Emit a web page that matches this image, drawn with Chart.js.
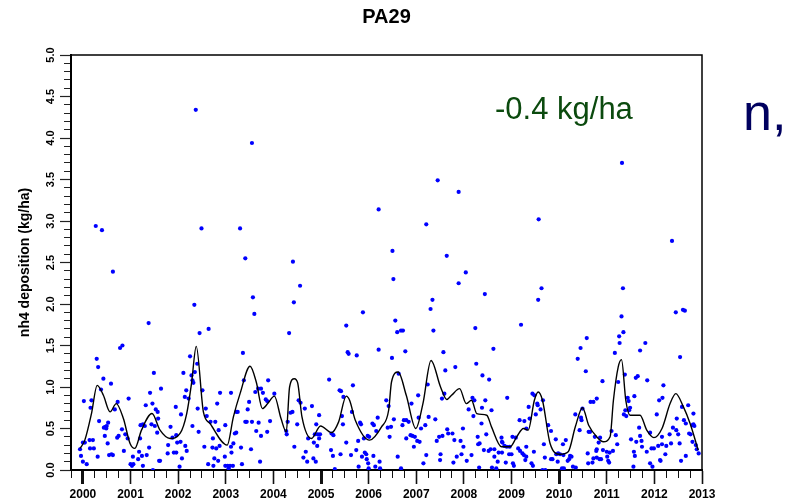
<!DOCTYPE html>
<html>
<head>
<meta charset="utf-8">
<script src="https://cdn.jsdelivr.net/npm/chart.js@4.4.1/dist/chart.umd.min.js"></script>
<style>
body{margin:0;background:#fff;}
canvas{display:block;}
</style>
</head>
<body>
<canvas id="c" width="788" height="504"></canvas>
<script>
// weekly samples [decimal year, kg/ha]
var obs2000 = [[1999.94,0.25],[1999.96,0.17],[2000.00,0.33],[2000.00,0.10],[2000.02,0.83],[2000.04,0.33],[2000.08,0.07],[2000.14,0.36],[2000.21,0.36],[2000.15,0.26],[2000.23,0.26],[2000.16,0.75],[2000.18,0.84],[2000.27,2.94],[2000.29,1.34],[2000.32,1.24],[2000.31,0.16],[2000.34,0.59],[2000.38,0.97],[2000.40,2.89],[2000.43,1.10],[2000.44,0.51],[2000.46,0.41],[2000.47,0.52],[2000.49,0.50],[2000.50,0.53],[2000.52,0.32],[2000.53,0.57],[2000.55,0.18],[2000.59,1.04],[2000.60,0.19],[2000.63,0.18],[2000.63,2.39],[2000.67,0.73],[2000.73,0.82],[2000.72,0.39],[2000.75,0.41],[2000.78,1.47],[2000.83,1.50],[2000.82,0.49],[2000.86,0.23],[2000.89,0.43],[2000.94,0.38],[2000.96,0.86],[2001.00,0.07],[2001.03,0.05],[2001.06,0.07],[2001.05,0.16],[2001.16,0.13],[2001.18,0.22],[2001.20,0.38],[2001.21,0.54],[2001.24,0.17],[2001.26,0.05],[2001.26,0.55],[2001.30,0.53],[2001.32,0.78],[2001.34,0.18],[2001.38,1.77],[2001.39,0.27],[2001.41,0.93],[2001.44,0.55],[2001.46,0.80],[2001.47,0.00],[2001.49,1.17],[2001.51,0.53],[2001.53,0.73],[2001.56,0.45],[2001.57,0.70],[2001.58,0.62],[2001.60,0.11],[2001.62,0.11],[2001.64,0.98],[2001.78,0.20],[2001.79,0.30],[2001.84,0.52],[2001.88,0.39],[2001.91,0.21],[2001.96,0.42]];
var obs2002 = [[2002.37,4.34],[2002.49,2.91],[2003.30,2.91],[2003.41,2.55],[2003.55,3.94],[2003.57,2.08],[2002.34,1.99],[2003.60,1.88],[2002.45,1.65],[2002.64,1.70],[2003.36,1.41],[2002.25,1.37],[2002.11,1.17],[2002.35,1.18],[2002.40,1.28],[2002.28,1.14],[2002.32,1.05],[2002.30,1.08],[2002.17,0.96],[2002.14,0.88],[2002.22,0.86],[2002.51,0.96],[2002.88,0.93],[2003.11,0.93],[2002.82,0.80],[2003.38,1.08],[2003.62,0.94],[2003.68,0.98],[2003.74,0.98],[2003.78,0.93],[2003.89,1.08],[2004.02,0.92],[2003.84,0.85],[2003.87,0.83],[2003.49,0.82],[2003.46,0.73],[2003.22,0.70],[2003.25,0.70],[2002.41,0.74],[2002.58,0.74],[2002.06,0.67],[2001.95,0.76],[2002.60,0.65],[2002.78,0.58],[2002.68,0.58],[2002.30,0.53],[2002.43,0.46],[2002.85,0.48],[2002.99,0.54],[2003.41,0.58],[2003.44,0.58],[2003.55,0.58],[2003.69,0.57],[2003.93,0.59],[2003.64,0.47],[2003.74,0.41],[2003.87,0.46],[2003.19,0.44],[2003.22,0.45],[2002.73,0.38],[2002.72,0.27],[2002.80,0.26],[2002.55,0.28],[2002.87,0.29],[2003.11,0.28],[2003.16,0.32],[2003.32,0.27],[2003.53,0.25],[2001.98,0.33],[2002.05,0.34],[2002.15,0.29],[2002.18,0.23],[2001.96,0.21],[2002.08,0.14],[2002.03,0.04],[2002.76,0.14],[2002.84,0.11],[2002.63,0.07],[2002.74,0.05],[2002.98,0.16],[2003.12,0.21],[2002.99,0.05],[2003.04,0.05],[2003.09,0.05],[2003.15,0.05],[2003.06,0.02],[2003.34,0.07],[2003.72,0.10]];
var obs2004 = [[2004.41,2.51],[2004.56,2.22],[2006.21,3.14],[2004.43,2.02],[2005.88,1.90],[2004.33,1.65],[2005.53,1.74],[2005.56,1.42],[2005.58,1.40],[2005.75,1.38],[2006.21,1.45],[2005.17,1.09],[2005.39,0.96],[2005.42,0.95],[2005.67,1.02],[2005.47,0.88],[2004.53,0.84],[2004.57,0.81],[2004.36,0.69],[2004.40,0.70],[2004.66,0.74],[2004.81,0.77],[2004.96,0.66],[2005.44,0.65],[2005.65,0.70],[2006.19,0.63],[2004.30,0.58],[2004.50,0.55],[2004.90,0.55],[2005.46,0.55],[2005.82,0.57],[2005.84,0.55],[2006.08,0.56],[2006.11,0.54],[2004.27,0.47],[2004.28,0.43],[2004.87,0.43],[2004.93,0.43],[2004.98,0.43],[2004.96,0.38],[2005.22,0.44],[2005.26,0.42],[2004.73,0.38],[2004.85,0.33],[2004.92,0.29],[2005.98,0.41],[2006.01,0.40],[2005.90,0.38],[2005.78,0.35],[2005.53,0.33],[2006.16,0.47],[2004.44,0.28],[2005.21,0.24],[2005.74,0.24],[2004.68,0.22],[2004.63,0.15],[2005.25,0.17],[2005.41,0.19],[2005.63,0.18],[2005.86,0.16],[2005.92,0.21],[2005.95,0.19],[2005.96,0.13],[2006.10,0.17],[2004.84,0.14],[2004.71,0.10],[2004.89,0.10],[2005.99,0.08],[2006.23,0.10],[2005.79,0.04],[2006.00,0.02],[2006.14,0.04],[2006.24,0.02],[2005.29,0.01]];
var obs2006 = [[2006.50,2.64],[2006.52,2.30],[2007.21,2.96],[2007.45,3.49],[2007.64,2.58],[2007.89,3.35],[2008.04,2.38],[2007.89,2.25],[2008.44,2.12],[2007.34,2.05],[2007.30,1.94],[2006.56,1.80],[2006.60,1.66],[2006.68,1.68],[2006.72,1.68],[2007.36,1.68],[2008.24,1.71],[2007.57,1.42],[2006.77,1.43],[2006.49,1.35],[2008.26,1.28],[2007.82,1.24],[2007.61,1.20],[2006.63,1.16],[2008.39,1.14],[2008.53,1.09],[2007.24,1.03],[2007.59,0.92],[2007.54,0.86],[2007.04,0.90],[2008.18,0.87],[2008.22,0.84],[2008.45,0.84],[2006.37,0.84],[2006.42,0.77],[2006.90,0.80],[2008.10,0.73],[2008.38,0.75],[2008.58,0.72],[2008.20,0.65],[2007.26,0.64],[2007.40,0.61],[2007.05,0.63],[2006.74,0.60],[2006.79,0.60],[2006.84,0.58],[2006.53,0.61],[2006.40,0.51],[2006.47,0.52],[2006.71,0.54],[2007.10,0.50],[2007.19,0.54],[2008.37,0.56],[2007.65,0.49],[2007.98,0.50],[2007.67,0.44],[2007.76,0.44],[2008.47,0.43],[2006.44,0.40],[2006.79,0.38],[2006.88,0.42],[2006.92,0.41],[2006.97,0.40],[2007.02,0.35],[2007.07,0.34],[2006.95,0.28],[2007.43,0.35],[2007.48,0.40],[2007.55,0.41],[2007.80,0.36],[2007.93,0.35],[2007.99,0.28],[2008.29,0.40],[2008.30,0.31],[2008.33,0.32],[2008.42,0.24],[2008.52,0.23],[2008.56,0.25],[2008.64,0.25],[2006.61,0.16],[2007.21,0.18],[2007.51,0.19],[2007.50,0.12],[2007.85,0.16],[2007.95,0.19],[2008.06,0.11],[2008.16,0.18],[2007.15,0.08],[2007.78,0.09],[2008.32,0.03],[2008.59,0.03],[2006.68,0.02]];
var obs2008 = [[2009.57,3.02],[2009.63,2.19],[2009.56,2.05],[2009.20,1.75],[2008.62,1.46],[2010.58,1.59],[2010.45,1.47],[2010.39,1.34],[2010.56,1.19],[2009.44,0.92],[2009.48,0.90],[2008.91,0.87],[2009.66,0.84],[2009.54,0.80],[2009.55,0.78],[2009.36,0.76],[2009.61,0.73],[2010.66,0.82],[2010.72,0.82],[2010.49,0.74],[2010.34,0.67],[2009.51,0.67],[2009.38,0.62],[2010.46,0.63],[2010.47,0.60],[2009.17,0.60],[2009.27,0.59],[2009.31,0.50],[2009.77,0.54],[2009.83,0.47],[2010.43,0.48],[2010.62,0.46],[2010.65,0.46],[2009.02,0.40],[2009.09,0.39],[2008.79,0.39],[2008.80,0.34],[2008.81,0.33],[2009.93,0.37],[2010.14,0.36],[2010.75,0.40],[2008.85,0.29],[2008.90,0.28],[2008.96,0.28],[2009.14,0.26],[2009.18,0.23],[2009.68,0.31],[2009.31,0.28],[2009.47,0.22],[2010.08,0.31],[2008.73,0.21],[2008.80,0.21],[2008.95,0.19],[2009.00,0.19],[2009.23,0.20],[2009.26,0.18],[2009.31,0.16],[2009.70,0.15],[2009.83,0.13],[2009.86,0.13],[2009.94,0.19],[2009.98,0.20],[2010.02,0.19],[2010.09,0.18],[2010.23,0.17],[2010.26,0.16],[2010.21,0.13],[2010.18,0.11],[2010.60,0.20],[2010.78,0.23],[2010.72,0.14],[2008.64,0.16],[2008.71,0.10],[2008.68,0.02],[2008.88,0.09],[2009.03,0.08],[2009.05,0.05],[2009.29,0.12],[2009.42,0.08],[2009.45,0.05],[2009.65,0.00],[2009.71,0.00],[2009.97,0.10],[2010.06,0.02],[2010.10,0.02],[2010.29,0.04],[2010.35,0.03],[2010.61,0.08],[2010.70,0.09]];
var obs2010 = [[2011.32,3.70],[2011.34,2.19],[2012.37,2.76],[2012.45,1.90],[2012.60,1.93],[2012.64,1.92],[2011.31,1.85],[2011.26,1.61],[2011.35,1.66],[2011.27,1.53],[2011.81,1.53],[2011.70,1.44],[2011.17,1.41],[2012.54,1.36],[2010.91,1.07],[2011.24,1.06],[2011.61,1.11],[2011.65,1.13],[2011.85,1.08],[2011.38,1.15],[2012.19,1.02],[2010.79,0.86],[2011.44,0.87],[2011.46,0.83],[2011.58,0.89],[2012.10,0.84],[2012.17,0.87],[2011.39,0.72],[2011.41,0.65],[2011.47,0.72],[2011.49,0.75],[2011.36,0.67],[2012.05,0.67],[2012.58,0.76],[2012.71,0.78],[2012.47,0.62],[2012.62,0.60],[2012.66,0.56],[2012.82,0.68],[2012.80,0.54],[2012.82,0.55],[2012.84,0.53],[2012.73,0.44],[2012.76,0.43],[2011.10,0.47],[2011.19,0.42],[2011.68,0.51],[2011.70,0.41],[2011.91,0.45],[2012.39,0.51],[2012.46,0.48],[2012.50,0.43],[2012.32,0.43],[2012.16,0.40],[2011.51,0.37],[2011.62,0.34],[2011.73,0.35],[2010.83,0.33],[2010.86,0.39],[2011.22,0.31],[2011.00,0.22],[2011.06,0.21],[2011.13,0.23],[2010.92,0.24],[2010.79,0.25],[2011.74,0.28],[2011.84,0.22],[2011.94,0.26],[2011.99,0.26],[2012.08,0.29],[2012.16,0.31],[2012.25,0.29],[2012.35,0.32],[2012.53,0.32],[2012.80,0.34],[2012.87,0.30],[2012.89,0.25],[2012.93,0.20],[2010.79,0.15],[2010.85,0.13],[2010.88,0.13],[2011.01,0.16],[2011.05,0.09],[2011.03,0.11],[2011.57,0.22],[2011.59,0.17],[2012.23,0.19],[2012.12,0.12],[2012.13,0.11],[2011.91,0.08],[2011.96,0.04],[2011.56,0.04],[2012.56,0.11],[2012.66,0.17]];

// smoothed curve
var trendYear = [1999.94,2000.04,2000.18,2000.30,2000.43,2000.57,2000.70,2000.85,2000.99,2001.09,2001.23,2001.45,2001.62,2001.83,2002.04,2002.18,2002.28,2002.38,2002.53,2002.67,2003.03,2003.16,2003.30,2003.51,2003.64,2003.77,2003.88,2004.02,2004.16,2004.27,2004.34,2004.44,2004.51,2004.60,2004.80,2004.99,2005.22,2005.37,2005.53,2005.60,2005.72,2006.02,2006.27,2006.42,2006.48,2006.62,2006.79,2006.99,2007.14,2007.31,2007.51,2007.64,2007.74,2007.91,2008.05,2008.16,2008.27,2008.48,2008.58,2008.79,2008.97,2009.11,2009.25,2009.35,2009.48,2009.56,2009.65,2009.81,2010.02,2010.19,2010.34,2010.49,2010.62,2010.79,2010.93,2011.07,2011.14,2011.24,2011.31,2011.40,2011.49,2011.70,2011.84,2011.99,2012.16,2012.33,2012.45,2012.61,2012.75,2012.92];
var trendNh4 = [0.26,0.36,0.68,1.02,0.90,0.70,0.80,0.62,0.32,0.26,0.48,0.68,0.48,0.38,0.44,0.68,1.04,1.49,0.70,0.56,0.30,0.64,0.92,1.25,1.06,0.74,0.80,0.89,0.62,0.46,1.00,1.10,1.05,0.64,0.38,0.53,0.45,0.58,0.89,0.84,0.60,0.36,0.52,0.72,1.06,1.18,0.90,0.50,0.80,1.32,1.00,0.85,0.90,0.98,0.80,0.84,0.68,0.66,0.52,0.28,0.28,0.40,0.50,0.48,0.84,0.94,0.84,0.32,0.19,0.22,0.52,0.75,0.54,0.40,0.34,0.40,0.84,1.24,1.33,0.84,0.66,0.66,0.48,0.39,0.50,0.80,0.92,0.76,0.56,0.24];

var siteName = "PA29";
var yTitle = "nh4 deposition (kg/ha)";
var trendLabel = "-0.4 kg/ha";
var sideLabel = "n,";

var FONT = '"Liberation Sans", Arial, sans-serif';
Chart.defaults.font.family = FONT;
Chart.defaults.color = "#000";

var points = [].concat(obs2000, obs2002, obs2004, obs2006, obs2008, obs2010).map(d => ({x: d[0], y: d[1]}));
var curve = trendYear.map((t, i) => ({x: t, y: trendNh4[i]}));

function isWhole(v, step) {
	return Math.abs(v / step - Math.round(v / step)) < 1e-6;
}

// frame on top/right and the loose labels
var extras = {
	id: "extras",
	afterDraw: function(chart) {
		var c = chart.ctx, a = chart.chartArea;
		c.save();
		c.strokeStyle = "#000";
		c.lineWidth = 1.5;
		c.beginPath();
		c.moveTo(a.left, a.top);
		c.lineTo(a.right, a.top);
		c.lineTo(a.right, a.bottom);
		c.stroke();
		c.textBaseline = "alphabetic";
		c.textAlign = "left";
		c.font = "31px " + FONT;
		c.fillStyle = "#0b4a0e";
		c.fillText(trendLabel, 495, 119);
		c.font = "52px " + FONT;
		c.fillStyle = "#00005f";
		c.fillText(sideLabel, 743, 130);
		c.restore();
	}
};

new Chart(document.getElementById("c"), {
	type: "scatter",
	data: {
		datasets: [
			{
				data: curve,
				showLine: true,
				borderColor: "#000",
				borderWidth: 1.4,
				pointRadius: 0,
				cubicInterpolationMode: "monotone",
				order: 0
			},
			{
				data: points,
				pointRadius: 2.1,
				pointBackgroundColor: "#0000ff",
				pointBorderWidth: 0,
				order: 1
			}
		]
	},
	options: {
		responsive: false,
		animation: false,
		devicePixelRatio: 1,
		layout: {padding: {left: 0, top: 0, right: 86, bottom: 0}},
		plugins: {
			legend: {display: false},
			tooltip: {enabled: false},
			title: {
				display: true,
				text: siteName,
				fullSize: false,
				color: "#000",
				font: {size: 20, weight: "bold"},
				padding: {top: 5, bottom: 26}
			}
		},
		scales: {
			x: {
				type: "linear",
				min: 1999.75,
				max: 2013,
				afterFit: s => { s.height = 34; },
				border: {color: "#000", width: 2},
				grid: {
					drawOnChartArea: false,
					tickLength: 14,
					tickColor: "#111",
					tickWidth: ctx => isWhole(ctx.tick.value, 5) ? 3 : (isWhole(ctx.tick.value, 1) ? 1.6 : 1),
					tickBorderDash: ctx => isWhole(ctx.tick.value, 1) ? [] : [7, 40]
				},
				ticks: {
					stepSize: 0.25,
					autoSkip: false,
					maxRotation: 0,
					minRotation: 0,
					padding: 3,
					font: {size: 12, weight: "bold"},
					callback: v => isWhole(v, 1) ? String(Math.round(v)) : ""
				}
			},
			y: {
				min: 0,
				max: 5,
				afterFit: s => { s.width = 71; },
				border: {color: "#000", width: 2},
				title: {
					display: true,
					text: yTitle,
					font: {size: 14, weight: "bold"},
					padding: {top: 17, bottom: 0}
				},
				grid: {
					drawOnChartArea: false,
					tickLength: 11,
					tickColor: "#222",
					tickWidth: 1.2,
					tickBorderDash: ctx => isWhole(ctx.tick.value, 0.5) ? [] : [0, 4, 7, 40]
				},
				ticks: {
					stepSize: 0.1,
					autoSkip: false,
					minRotation: 90,
					maxRotation: 90,
					crossAlign: "center",
					padding: 1,
					font: {size: 11, weight: "bold"},
					callback: v => isWhole(v, 0.5) ? v.toFixed(1) : ""
				}
			}
		}
	},
	plugins: [extras]
});
</script>
</body>
</html>
